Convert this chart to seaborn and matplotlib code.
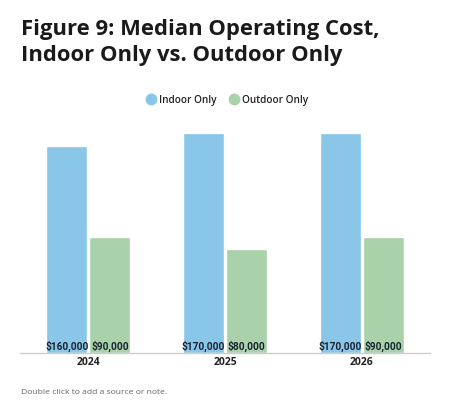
import matplotlib
matplotlib.use("Agg")
import matplotlib.pyplot as plt
import seaborn as sns
import pandas as pd
from matplotlib.lines import Line2D

years = ["2024", "2025", "2026"]
indoor = [160000, 170000, 170000]
outdoor = [90000, 80000, 90000]
series = ["Indoor Only", "Outdoor Only"]
colors = ["#8AC6E8", "#A9D2AB"]

df = pd.DataFrame({
    "year": years * 2,
    "value": indoor + outdoor,
    "series": [series[0]] * 3 + [series[1]] * 3,
})

sns.set_style("white")
plt.rcParams["font.family"] = ["Open Sans", "DejaVu Sans"]

fig = plt.figure(figsize=(4.5, 4.09), dpi=100)
ax = fig.add_axes([20 / 450, 1 - 353 / 409, 410 / 450, (353 - 120) / 409])

sns.barplot(data=df, x="year", y="value", hue="series", palette=colors,
            width=0.63, gap=0.05, ax=ax, legend=False, saturation=1)

ax.set_xlim(-0.5, 2.5)
ax.set_ylim(0, 180000)
ax.set_xlabel("")
ax.set_ylabel("")
ax.set_yticks([])
for s in ["top", "right", "left"]:
    ax.spines[s].set_visible(False)
ax.spines["bottom"].set_color("#cccccc")
ax.spines["bottom"].set_linewidth(1.0)
ax.tick_params(axis="x", length=0, pad=3, labelsize=7.5)
for lbl in ax.get_xticklabels():
    lbl.set_fontweight("bold")
    lbl.set_color("#222222")

for cont in ax.containers:
    for bar in cont:
        h = bar.get_height()
        ax.text(bar.get_x() + bar.get_width() / 2, 600, f"${h:,.0f}",
                ha="center", va="bottom", fontsize=7.3, fontweight="bold",
                color="#1a2330", family=["Roboto", "DejaVu Sans"])

fig.text(21 / 450, 1 - 19 / 409, "Figure 9: Median Operating Cost,\nIndoor Only vs. Outdoor Only",
         ha="left", va="top", fontsize=15.8, fontweight="bold", color="#1a1a1a",
         linespacing=1.3)

handles = [Line2D([0], [0], marker="o", color="w", markerfacecolor=c,
                  markeredgecolor=c, markersize=7.5) for c in colors]
leg = fig.legend(handles, series, loc="center", bbox_to_anchor=(227 / 450, 1 - 100 / 409),
                 ncol=2, frameon=False, fontsize=7.2, handletextpad=0.3, columnspacing=1.3,
                 handlelength=1.0)
for t in leg.get_texts():
    t.set_fontweight("semibold")
    t.set_color("#222222")

fig.text(21 / 450, 1 - 393 / 409, "Double click to add a source or note.",
         ha="left", va="center", fontsize=6.1, color="#666666")

fig.savefig("out.png", dpi=100)
